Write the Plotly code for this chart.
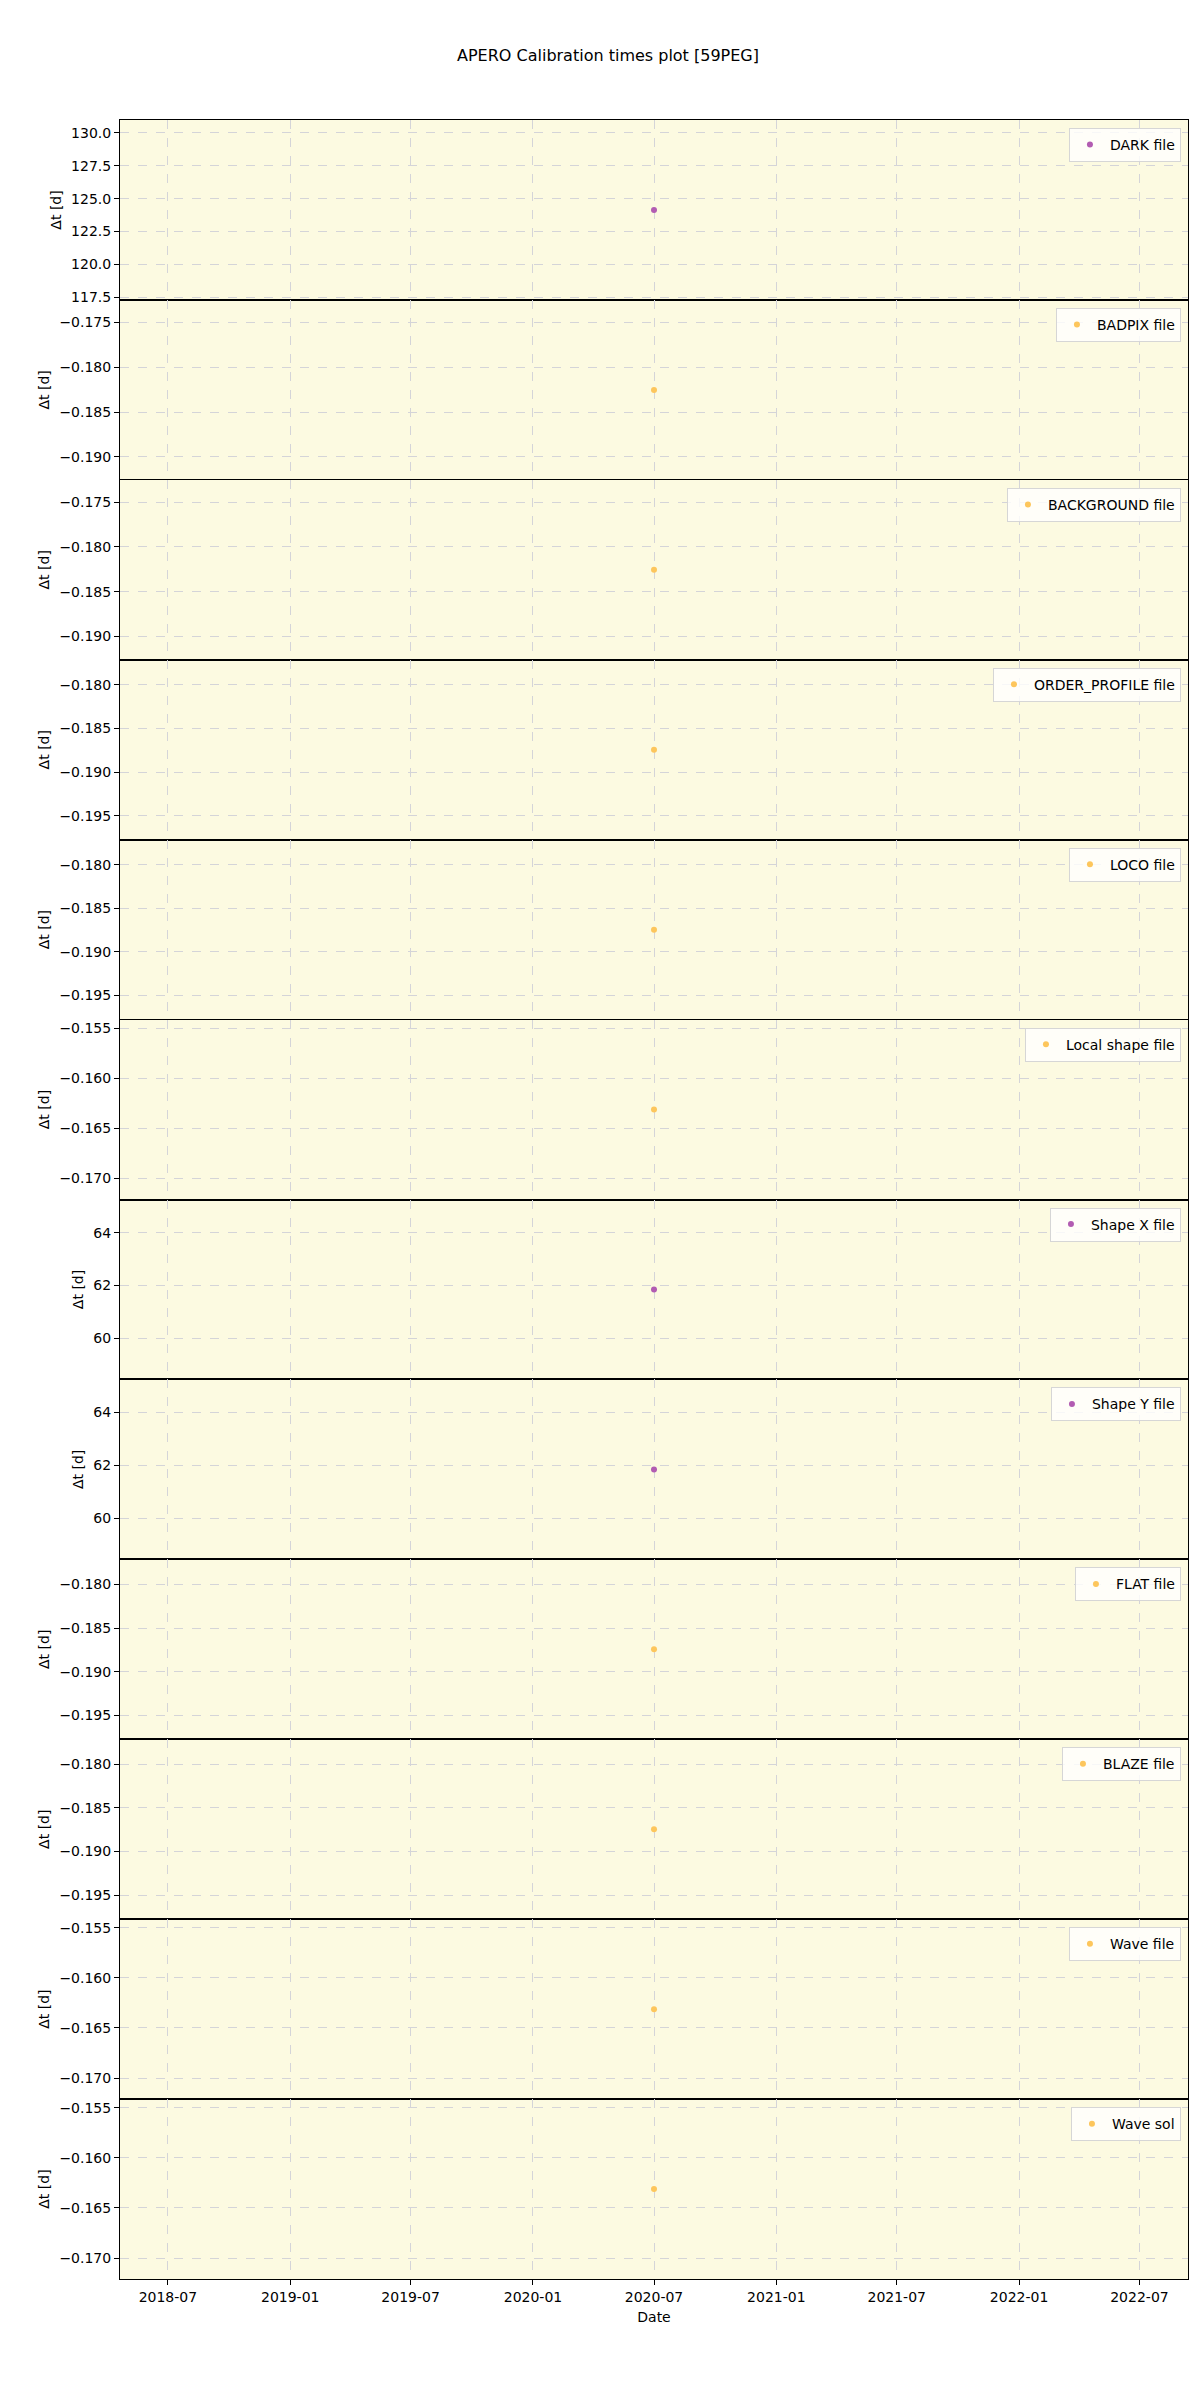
import pandas as pd
import plotly.graph_objects as go
from plotly.subplots import make_subplots

# calibration file types, one panel each
labels = ['DARK file', 'BADPIX file', 'BACKGROUND file', 'ORDER_PROFILE file',
          'LOCO file', 'Local shape file', 'Shape X file', 'Shape Y file',
          'FLAT file', 'BLAZE file', 'Wave file', 'Wave sol']
dates = ['2020-07-01'] * 12
dt_days = [124.14, -0.18251, -0.18256, -0.18744, -0.18745, -0.16312,
           61.85, 61.85, -0.18744, -0.18745, -0.16312, -0.16312]
kinds = ['master', 'night', 'night', 'night', 'night', 'night',
         'master', 'master', 'night', 'night', 'night', 'night']

tick_steps = [2.5, 0.005, 0.005, 0.005, 0.005, 0.005, 2, 2, 0.005, 0.005, 0.005, 0.005]
tick_formats = ['.1f', '.3f', '.3f', '.3f', '.3f', '.3f', 'd', 'd', '.3f', '.3f', '.3f', '.3f']

colours = {'master': '#b25cb2', 'night': '#fdc65c'}

n = len(labels)
W, H = 1200, 2400
# page body has an 8px margin, so the margins are pulled in by that much
ml, mr, mt, mb = 112, 20, 112, 129
font = 'DejaVu Sans'
grid = '#d4d4d8'

fig = make_subplots(rows=n, cols=1, shared_xaxes=True, vertical_spacing=0)

centre = pd.Timestamp(dates[0])
xrange_ = [centre - pd.Timedelta(days=803), centre + pd.Timedelta(days=803)]

for i in range(n):
    leg = 'legend' if i == 0 else 'legend%d' % (i + 1)
    fig.add_trace(go.Scatter(x=[dates[i]], y=[dt_days[i]], mode='markers', name=labels[i],
                             marker=dict(color=colours[kinds[i]], size=6),
                             legend=leg, showlegend=True), row=i + 1, col=1)
    v = dt_days[i]
    pad = abs(v) * 0.055
    fig.update_yaxes(range=[v - pad, v + pad], dtick=tick_steps[i], tickformat=tick_formats[i],
                     row=i + 1, col=1)
    ya = fig.layout['yaxis' if i == 0 else 'yaxis%d' % (i + 1)]
    top = ya.domain[1]
    fig.layout[leg] = dict(x=0.9934, y=top - 8 / (H - mt - mb), xanchor='right', yanchor='top',
                           bgcolor='rgba(255,255,255,0.8)', bordercolor='#d6d6d6', borderwidth=1,
                           font=dict(family=font, size=14, color='black'))

fig.update_yaxes(title=dict(text='Δt [d]', font=dict(family=font, size=14), standoff=6),
                 automargin=False,
                 showline=True, mirror=True, linecolor='black', linewidth=1,
                 ticks='outside', ticklen=5, tickcolor='black',
                 tickfont=dict(family=font, size=14, color='black'),
                 showgrid=True, gridcolor=grid, griddash='dash', gridwidth=1, zeroline=False)
fig.update_xaxes(range=xrange_, type='date', dtick='M6', tick0='2018-01-01', tickformat='%Y-%m',
                 automargin=False,
                 showline=True, mirror=True, linecolor='black', linewidth=1,
                 showgrid=True, gridcolor=grid, griddash='dash', gridwidth=1, zeroline=False,
                 tickfont=dict(family=font, size=14, color='black'))
fig.update_xaxes(ticks='outside', ticklen=5, tickcolor='black',
                 title=dict(text='Date', font=dict(family=font, size=14), standoff=8),
                 row=n, col=1)

fig.update_layout(
    width=W, height=H,
    margin=dict(l=ml, r=mr, t=mt, b=mb),
    paper_bgcolor='white', plot_bgcolor='#fcfae1',
    font=dict(family=font, size=14, color='black'),
    title=dict(text='APERO Calibration times plot [59PEG]', x=0.5, xanchor='center',
               y=1 - 47 / H, yanchor='middle', font=dict(family=font, size=16, color='black')),
)

fig.write_html('out.html')
